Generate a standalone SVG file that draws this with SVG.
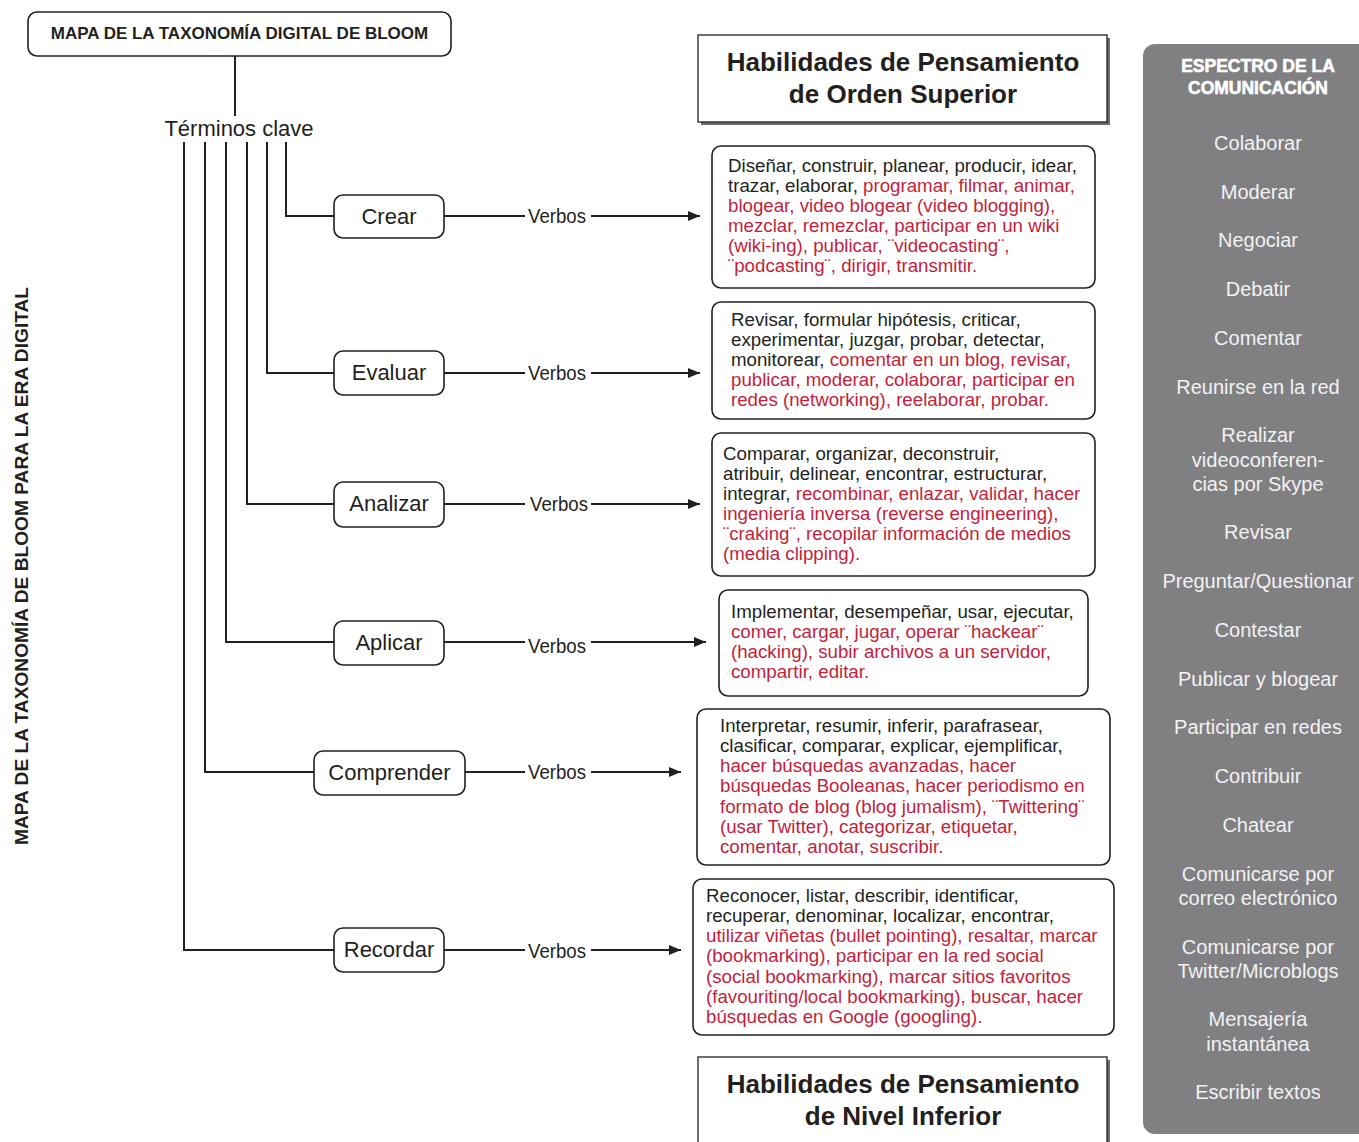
<svg xmlns="http://www.w3.org/2000/svg" width="1359" height="1142" viewBox="0 0 1359 1142">
<defs>
<style>
text{font-family:"Liberation Sans",Arial,sans-serif;fill:#231f20}
.node rect{fill:#fff;stroke:#231f20;stroke-width:1.6}
.lbl{font-size:22px;text-anchor:middle}
.vb{font-size:21px}
.box rect{fill:#fff;stroke:#231f20;stroke-width:1.6}
.bt{font-size:18.7px}
.r{fill:#c41e3a}
.hab{font-size:26px;font-weight:bold;text-anchor:middle}
.sp{font-size:20px;fill:#f2f2f2;text-anchor:middle}
.conn path,.conn line{fill:none;stroke:#231f20;stroke-width:2}
</style>
<marker id="ah" viewBox="0 0 12 10" refX="12" refY="5" markerWidth="12" markerHeight="10" markerUnits="userSpaceOnUse" orient="auto">
<path d="M0,0 L12,5 L0,10 Z" fill="#231f20"/>
</marker>
</defs>
<rect width="1359" height="1142" fill="#fff"/>

<!-- side vertical title -->
<text x="0" y="0" transform="translate(28,566) rotate(-90)" text-anchor="middle" font-size="18.5" font-weight="bold" textLength="558" lengthAdjust="spacingAndGlyphs">MAPA DE LA TAXONOMÍA DE BLOOM PARA LA ERA DIGITAL</text>

<!-- title -->
<g id="title" class="node">
<rect x="28" y="12" width="423" height="44" rx="9"/>
<text x="239.5" y="39" text-anchor="middle" font-size="17" font-weight="bold">MAPA DE LA TAXONOMÍA DIGITAL DE BLOOM</text>
</g>
<g id="terminos">
<text x="239" y="136" text-anchor="middle" font-size="22">Términos clave</text>
</g>

<!-- connectors -->
<g id="connectors" class="conn">
<line x1="235" y1="56" x2="235" y2="116"/>
<path d="M286,142 V216 H334"/>
<path d="M267,142 V373 H334"/>
<path d="M247,142 V504 H334"/>
<path d="M226,142 V642 H334"/>
<path d="M205,142 V772 H314"/>
<path d="M184,142 V950 H334"/>
<line x1="444" y1="216" x2="525" y2="216"/>
<line x1="591" y1="216" x2="700" y2="216" marker-end="url(#ah)"/>
<line x1="444" y1="373" x2="525" y2="373"/>
<line x1="591" y1="373" x2="700" y2="373" marker-end="url(#ah)"/>
<line x1="444" y1="504" x2="525" y2="504"/>
<line x1="591" y1="504" x2="700" y2="504" marker-end="url(#ah)"/>
<line x1="444" y1="642" x2="525" y2="642"/>
<line x1="591" y1="642" x2="706" y2="642" marker-end="url(#ah)"/>
<line x1="465" y1="772" x2="525" y2="772"/>
<line x1="591" y1="772" x2="681" y2="772" marker-end="url(#ah)"/>
<line x1="444" y1="950" x2="525" y2="950"/>
<line x1="591" y1="950" x2="681" y2="950" marker-end="url(#ah)"/>
<text class="vb" x="528" y="223" textLength="58" lengthAdjust="spacingAndGlyphs">Verbos</text>
<text class="vb" x="528" y="380" textLength="58" lengthAdjust="spacingAndGlyphs">Verbos</text>
<text class="vb" x="530" y="511" textLength="58" lengthAdjust="spacingAndGlyphs">Verbos</text>
<text class="vb" x="528" y="653" textLength="58" lengthAdjust="spacingAndGlyphs">Verbos</text>
<text class="vb" x="528" y="779" textLength="58" lengthAdjust="spacingAndGlyphs">Verbos</text>
<text class="vb" x="528" y="958" textLength="58" lengthAdjust="spacingAndGlyphs">Verbos</text>
</g>

<!-- level nodes -->
<g id="crear" class="node"><rect x="334" y="195" width="110" height="43" rx="9"/><text class="lbl" x="389" y="224">Crear</text></g>
<g id="evaluar" class="node"><rect x="334" y="351" width="110" height="44" rx="9"/><text class="lbl" x="389" y="380">Evaluar</text></g>
<g id="analizar" class="node"><rect x="334" y="482" width="110" height="45" rx="9"/><text class="lbl" x="389" y="511">Analizar</text></g>
<g id="aplicar" class="node"><rect x="334" y="621" width="110" height="44" rx="9"/><text class="lbl" x="389" y="650">Aplicar</text></g>
<g id="comprender" class="node"><rect x="314" y="751" width="151" height="44" rx="9"/><text class="lbl" x="389.5" y="780">Comprender</text></g>
<g id="recordar" class="node"><rect x="334" y="928" width="110" height="44" rx="9"/><text class="lbl" x="389" y="957">Recordar</text></g>

<!-- verb boxes -->
<g id="box-crear" class="box">
<rect x="712" y="146" width="383" height="142" rx="9"/>
<text class="bt" x="728" y="172">Diseñar, construir, planear, producir, idear,</text>
<text class="bt" x="728" y="192">trazar, elaborar, <tspan class="r">programar, filmar, animar,</tspan></text>
<text class="bt r" x="728" y="212">blogear, video blogear (video blogging),</text>
<text class="bt r" x="728" y="232">mezclar, remezclar, participar en un wiki</text>
<text class="bt r" x="728" y="252">(wiki-ing), publicar, ¨videocasting¨,</text>
<text class="bt r" x="728" y="272">¨podcasting¨, dirigir, transmitir.</text>
</g>
<g id="box-evaluar" class="box">
<rect x="712" y="302" width="383" height="117" rx="9"/>
<text class="bt" x="731" y="326">Revisar, formular hipótesis, criticar,</text>
<text class="bt" x="731" y="346">experimentar, juzgar, probar, detectar,</text>
<text class="bt" x="731" y="366">monitorear, <tspan class="r">comentar en un blog, revisar,</tspan></text>
<text class="bt r" x="731" y="386">publicar, moderar, colaborar, participar en</text>
<text class="bt r" x="731" y="406">redes (networking), reelaborar, probar.</text>
</g>
<g id="box-analizar" class="box">
<rect x="712" y="433" width="383" height="143" rx="9"/>
<text class="bt" x="723" y="460">Comparar, organizar, deconstruir,</text>
<text class="bt" x="723" y="480">atribuir, delinear, encontrar, estructurar,</text>
<text class="bt" x="723" y="500">integrar, <tspan class="r">recombinar, enlazar, validar, hacer</tspan></text>
<text class="bt r" x="723" y="520">ingeniería inversa (reverse engineering),</text>
<text class="bt r" x="723" y="540">¨craking¨, recopilar información de medios</text>
<text class="bt r" x="723" y="560">(media clipping).</text>
</g>
<g id="box-aplicar" class="box">
<rect x="719" y="590" width="369" height="106" rx="9"/>
<text class="bt" x="731" y="618">Implementar, desempeñar, usar, ejecutar,</text>
<text class="bt r" x="731" y="638">comer, cargar, jugar, operar ¨hackear¨</text>
<text class="bt r" x="731" y="658">(hacking), subir archivos a un servidor,</text>
<text class="bt r" x="731" y="678">compartir, editar.</text>
</g>
<g id="box-comprender" class="box">
<rect x="697" y="709" width="413" height="156" rx="9"/>
<text class="bt" x="720" y="732">Interpretar, resumir, inferir, parafrasear,</text>
<text class="bt" x="720" y="752">clasificar, comparar, explicar, ejemplificar,</text>
<text class="bt r" x="720" y="772">hacer búsquedas avanzadas, hacer</text>
<text class="bt r" x="720" y="792">búsquedas Booleanas, hacer periodismo en</text>
<text class="bt r" x="720" y="813">formato de blog (blog jumalism), ¨Twittering¨</text>
<text class="bt r" x="720" y="833">(usar Twitter), categorizar, etiquetar,</text>
<text class="bt r" x="720" y="853">comentar, anotar, suscribir.</text>
</g>
<g id="box-recordar" class="box">
<rect x="693" y="879" width="421" height="156" rx="9"/>
<text class="bt" x="706" y="902">Reconocer, listar, describir, identificar,</text>
<text class="bt" x="706" y="922">recuperar, denominar, localizar, encontrar,</text>
<text class="bt r" x="706" y="942">utilizar viñetas (bullet pointing), resaltar, marcar</text>
<text class="bt r" x="706" y="962">(bookmarking), participar en la red social</text>
<text class="bt r" x="706" y="983">(social bookmarking), marcar sitios favoritos</text>
<text class="bt r" x="706" y="1003">(favouriting/local bookmarking), buscar, hacer</text>
<text class="bt r" x="706" y="1023">búsquedas en Google (googling).</text>
</g>

<!-- higher / lower order labels -->
<g id="orden-superior">
<rect x="701" y="38" width="409" height="87" fill="#6d6e71"/>
<rect x="698" y="35" width="409" height="87" fill="#fff" stroke="#231f20" stroke-width="1.3"/>
<text class="hab" x="903" y="71">Habilidades de Pensamiento</text>
<text class="hab" x="903" y="103">de Orden Superior</text>
</g>
<g id="nivel-inferior">
<rect x="701" y="1060" width="409" height="90" fill="#6d6e71"/>
<rect x="698" y="1057" width="409" height="95" fill="#fff" stroke="#231f20" stroke-width="1.3"/>
<text class="hab" x="903" y="1093">Habilidades de Pensamiento</text>
<text class="hab" x="903" y="1125">de Nivel Inferior</text>
</g>

<!-- communication spectrum -->
<g id="espectro">
<rect x="1143" y="44" width="240" height="1090" rx="12" fill="#808083"/>
<text x="1258" y="72" text-anchor="middle" font-size="17.5" font-weight="bold" style="fill:#fff" stroke="#fff" stroke-width="0.6">ESPECTRO DE LA</text>
<text x="1258" y="94" text-anchor="middle" font-size="17.5" font-weight="bold" style="fill:#fff" stroke="#fff" stroke-width="0.6">COMUNICACIÓN</text>
<text class="sp" x="1258" y="150">Colaborar</text>
<text class="sp" x="1258" y="199">Moderar</text>
<text class="sp" x="1258" y="247">Negociar</text>
<text class="sp" x="1258" y="296">Debatir</text>
<text class="sp" x="1258" y="345">Comentar</text>
<text class="sp" x="1258" y="394">Reunirse en la red</text>
<text class="sp" x="1258" y="442">Realizar</text>
<text class="sp" x="1258" y="467">videoconferen-</text>
<text class="sp" x="1258" y="491">cias por Skype</text>
<text class="sp" x="1258" y="539">Revisar</text>
<text class="sp" x="1258" y="588">Preguntar/Questionar</text>
<text class="sp" x="1258" y="637">Contestar</text>
<text class="sp" x="1258" y="686">Publicar y blogear</text>
<text class="sp" x="1258" y="734">Participar en redes</text>
<text class="sp" x="1258" y="783">Contribuir</text>
<text class="sp" x="1258" y="832">Chatear</text>
<text class="sp" x="1258" y="881">Comunicarse por</text>
<text class="sp" x="1258" y="905">correo electrónico</text>
<text class="sp" x="1258" y="954">Comunicarse por</text>
<text class="sp" x="1258" y="978">Twitter/Microblogs</text>
<text class="sp" x="1258" y="1026">Mensajería</text>
<text class="sp" x="1258" y="1051">instantánea</text>
<text class="sp" x="1258" y="1099">Escribir textos</text>
</g>
</svg>
